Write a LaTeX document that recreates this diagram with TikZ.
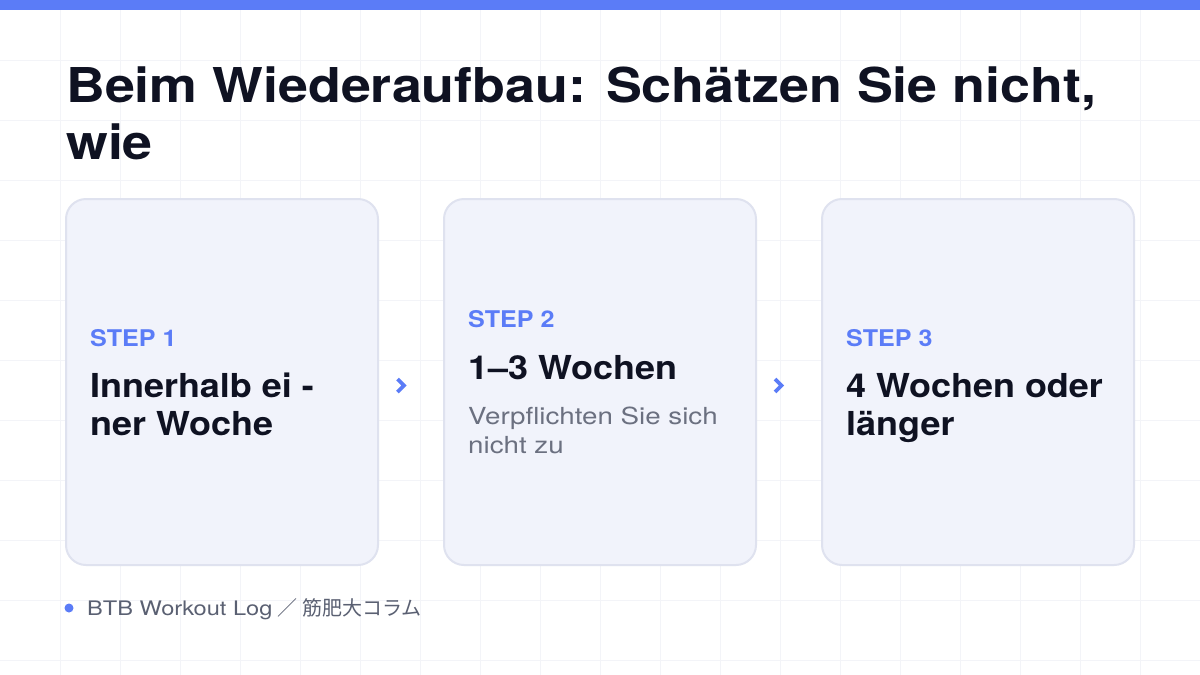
\documentclass[tikz,border=0pt]{standalone}
\usepackage{fontspec}
\setmainfont{TeX Gyre Heros}
\newfontfamily\titlef{texgyreheros-bold.otf}[FakeStretch=1.12]
\newfontfamily\headf{texgyreheros-bold.otf}[FakeStretch=1.09]
\newfontfamily\regf{texgyreheros-regular.otf}[FakeStretch=1.18]
\newfontfamily\cjk{Noto Sans CJK JP}
\definecolor{accent}{HTML}{5B7CF7}
\definecolor{titlec}{HTML}{0F1222}
\definecolor{gridc}{HTML}{F3F4F8}
\definecolor{cardfill}{HTML}{F1F3FB}
\definecolor{cardline}{HTML}{DFE2EF}
\definecolor{subc}{HTML}{6B7080}
\definecolor{footc}{HTML}{5A6072}
\tikzset{
  card/.style={draw=cardline, fill=cardfill, line width=2pt, rounded corners=20pt,
    minimum width=312pt, minimum height=366pt, inner sep=0pt},
  steplabel/.style={anchor=base west, inner sep=0pt, text=accent,
    font=\fontsize{23}{28}\selectfont\headf},
  heading/.style={anchor=base west, inner sep=0pt, text=titlec, align=left,
    font=\fontsize{33}{38}\selectfont\headf},
  subtext/.style={anchor=base west, inner sep=0pt, text=subc, align=left,
    font=\fontsize{23.5}{29}\selectfont\regf},
  chev/.style={draw=accent, line width=3.6pt, line join=miter}
}
\begin{document}
\begin{tikzpicture}[x=1pt,y=-1pt]
\useasboundingbox (0,0) rectangle (1200,675);
\fill[white] (0,0) rectangle (1200,675);
\foreach \i in {60,120,...,1140} \draw[gridc, line width=1pt] (\i,10) -- (\i,675);
\foreach \j in {60,120,...,660} \draw[gridc, line width=1pt] (0,\j) -- (1200,\j);
\fill[accent] (0,0) rectangle (1200,10);

\node[anchor=base west, inner sep=0pt, text=titlec, align=left,
  font=\fontsize{48}{57}\selectfont\titlef] (title) at (66,159)
  {Beim Wiederaufbau: Schätzen Sie nicht,\\wie};

\node[card] (c1) at (222,382) {};
\node[card] (c2) at (600,382) {};
\node[card] (c3) at (978,382) {};

\node[steplabel] (s1) at (90,346) {STEP 1};
\node[heading] (h1) at (90,435) {Innerhalb ei -\\ner Woche};

\node[steplabel] (s2) at (468,327) {STEP 2};
\node[heading] (h2) at (468,379) {1–3 Wochen};
\node[subtext] (t2) at (468,453) {Verpflichten Sie sich\\nicht zu};

\node[steplabel] (s3) at (846,346) {STEP 3};
\node[heading] (h3) at (846,435) {4 Wochen oder\\länger};

\coordinate (a1) at (401,385.5);
\coordinate (a2) at (778.5,385.5);
\draw[chev] ([shift={(-3.5,-6.5)}]a1) -- ([shift={(3,0)}]a1) -- ([shift={(-3.5,6.5)}]a1);
\draw[chev] ([shift={(-3.5,-6.5)}]a2) -- ([shift={(3,0)}]a2) -- ([shift={(-3.5,6.5)}]a2);

\fill[accent] (69,608) circle (4.5pt);
\node[anchor=base west, inner sep=0pt, text=footc, font=\fontsize{20}{24}\selectfont]
  (foot) at (87,615) {{\regf BTB Workout Log} {\cjk ／ 筋肥大コラム}};
\end{tikzpicture}
\end{document}
